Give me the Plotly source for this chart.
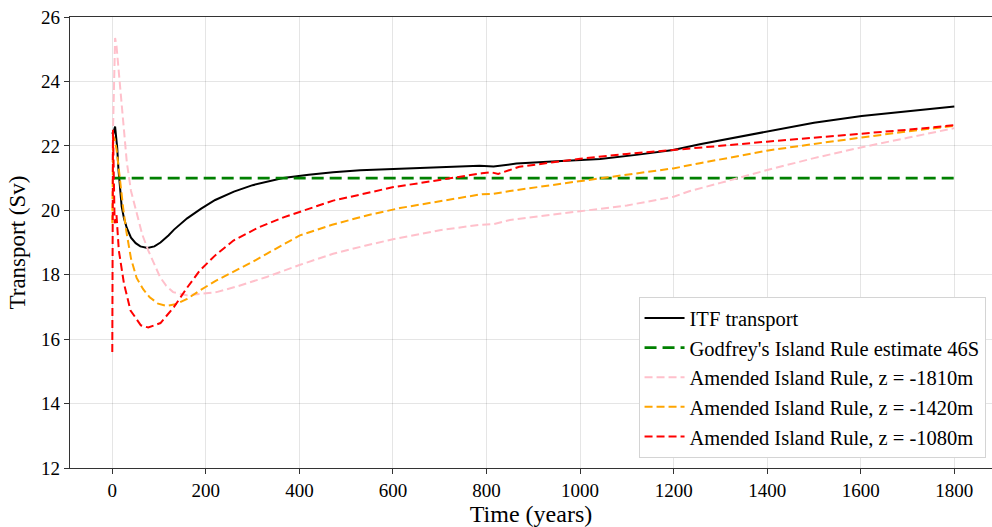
import plotly.graph_objects as go

# ---- data ----
itf_t = [0, 2, 4, 6, 8, 10.5, 13, 16, 20, 25, 31, 40, 50, 60, 75, 90, 103, 120, 132, 160, 190, 220, 260, 300,
         365, 420, 472, 530, 600, 700, 785, 815, 864, 950, 1043, 1120, 1199, 1256, 1320, 1399, 1500, 1602, 1700, 1800]
itf_v = [22.42, 22.35, 22.5, 22.6, 22.3, 21.95, 21.3, 20.7, 20.12, 19.75, 19.45, 19.15, 18.98, 18.88, 18.83, 18.88,
         19.0, 19.22, 19.4, 19.75, 20.05, 20.32, 20.58, 20.78, 21.0, 21.1, 21.18, 21.24, 21.28, 21.34, 21.38, 21.36,
         21.45, 21.52, 21.59, 21.72, 21.87, 22.05, 22.22, 22.45, 22.72, 22.93, 23.08, 23.22]

godfrey_t = [3, 1800]
godfrey_v = [21.0, 21.0]

z1810_t = [0, 3, 6, 9, 13, 20, 25, 31, 40, 52, 64, 77, 90, 102, 115, 130, 159, 195, 223, 270, 330, 400, 472, 540,
           600, 700, 785, 815, 850, 1000, 1100, 1200, 1235, 1300, 1400, 1500, 1600, 1700, 1800]
z1810_v = [21.5, 24.0, 25.35, 25.1, 24.4, 23.3, 22.4, 21.5, 20.6, 19.89, 19.25, 18.75, 18.3, 17.93, 17.66, 17.46,
           17.36, 17.41, 17.46, 17.65, 17.93, 18.3, 18.65, 18.9, 19.1, 19.38, 19.55, 19.57, 19.7, 19.97, 20.15,
           20.42, 20.6, 20.85, 21.25, 21.62, 21.95, 22.25, 22.55]

z1420_t = [0, 2, 5, 9, 13, 18, 23, 30, 40, 52, 66, 80, 98, 116, 135, 160, 187, 220, 259, 300, 330, 401, 470, 544,
           615, 722, 790, 815, 850, 1007, 1100, 1199, 1256, 1300, 1399, 1500, 1602, 1700, 1800]
z1420_v = [19.6, 22.3, 22.2, 21.9, 21.4, 20.7, 20.1, 19.35, 18.5, 17.9, 17.55, 17.3, 17.1, 17.03, 17.08, 17.25,
           17.51, 17.8, 18.08, 18.4, 18.65, 19.22, 19.55, 19.84, 20.07, 20.33, 20.5, 20.51, 20.6, 20.92, 21.1,
           21.3, 21.46, 21.58, 21.85, 22.06, 22.26, 22.45, 22.62]

z1080_t = [0, 1.5, 5, 9, 14, 25, 39, 61, 77, 103, 132, 160, 187, 220, 259, 310, 366, 420, 472, 540, 601, 660, 722,
           790, 810, 825, 870, 936, 1000, 1100, 1199, 1256, 1300, 1399, 1500, 1602, 1700, 1800]
z1080_v = [15.6, 22.5, 19.6, 19.85, 18.75, 17.72, 16.89, 16.43, 16.36, 16.5, 17.0, 17.6, 18.13, 18.6, 19.06, 19.45,
           19.78, 20.05, 20.3, 20.52, 20.72, 20.85, 21.0, 21.15, 21.18, 21.13, 21.35, 21.47, 21.6, 21.75, 21.87,
           21.93, 22.0, 22.13, 22.25, 22.38, 22.5, 22.64]

x_ticks = [0, 200, 400, 600, 800, 1000, 1200, 1400, 1600, 1800]
y_ticks = [12, 14, 16, 18, 20, 22, 24, 26]

FONT = "Liberation Serif"

fig = go.Figure()
fig.add_trace(go.Scatter(x=itf_t, y=itf_v, mode="lines", name="ITF transport",
                         line=dict(color="black", width=2)))
fig.add_trace(go.Scatter(x=godfrey_t, y=godfrey_v, mode="lines", name="Godfrey's Island Rule estimate 46S",
                         line=dict(color="green", width=2.8, dash="12px,6px")))
fig.add_trace(go.Scatter(x=z1810_t, y=z1810_v, mode="lines", name="Amended Island Rule, z = -1810m",
                         line=dict(color="pink", width=2, dash="8px,4px")))
fig.add_trace(go.Scatter(x=z1420_t, y=z1420_v, mode="lines", name="Amended Island Rule, z = -1420m",
                         line=dict(color="orange", width=2, dash="8px,4px")))
fig.add_trace(go.Scatter(x=z1080_t, y=z1080_v, mode="lines", name="Amended Island Rule, z = -1080m",
                         line=dict(color="red", width=2, dash="8px,4px")))

fig.update_layout(
    width=992, height=527,
    margin=dict(l=70, r=0, t=17, b=59),
    plot_bgcolor="white", paper_bgcolor="white",
    font=dict(family=FONT, size=19, color="black"),
    showlegend=True,
    legend=dict(x=0.993, y=0.022, xanchor="right", yanchor="bottom",
                bgcolor="white", bordercolor="#d4d4d4", borderwidth=1,
                font=dict(family=FONT, size=20.5, color="black"),
                itemwidth=40),
)
fig.update_xaxes(
    range=[-90.4, 1880.5], tickvals=x_ticks, ticktext=[str(v) for v in x_ticks],
    showline=True, linecolor="#333333", linewidth=1.3, mirror=True,
    ticks="outside", ticklen=5, tickcolor="#333333",
    showgrid=True, gridcolor="rgba(0,0,0,0.10)", gridwidth=1,
    zeroline=False,
    title=dict(text="Time (years)", font=dict(size=24), standoff=6),
)
fig.update_yaxes(
    range=[12, 26], tickvals=y_ticks, ticktext=[str(v) for v in y_ticks],
    showline=True, linecolor="#333333", linewidth=1.3, mirror=False,
    ticks="outside", ticklen=5, tickcolor="#333333",
    showgrid=True, gridcolor="rgba(0,0,0,0.10)", gridwidth=1,
    zeroline=False, ticklabeloverflow="allow",
    title=dict(text="Transport (Sv)", font=dict(size=23), standoff=8),
)

# remove the default 8px page margin so the figure sits at the window's top-left corner
fig.write_html("out.html", config={"displayModeBar": False},
               post_script="document.body.style.margin='0';document.body.style.overflow='hidden';")
